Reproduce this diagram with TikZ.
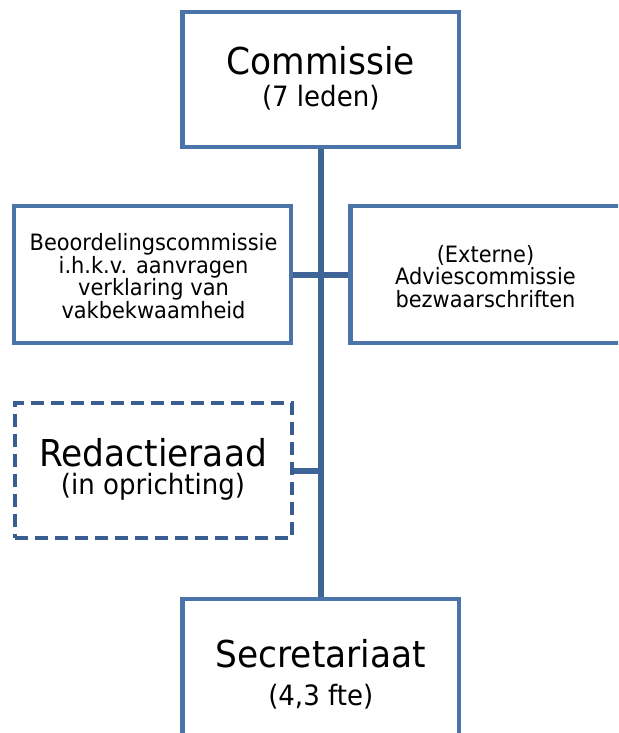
\documentclass[tikz,border=0pt]{standalone}
\usepackage{fontspec}
\setmainfont{DejaVu Sans}
\newfontfamily\orgfont[FakeStretch=0.93]{DejaVu Sans}
\definecolor{boxblue}{RGB}{74,116,170}
\definecolor{lineblue}{RGB}{62,100,152}
\definecolor{dashblue}{RGB}{58,94,146}
\begin{document}
\begin{tikzpicture}[x=1pt,y=-1pt,
  orgbox/.style={draw=boxblue, line width=4.5pt, fill=white, rectangle, inner sep=0pt},
  dashbox/.style={draw=dashblue, line width=4pt, fill=white, rectangle, inner sep=0pt, dash pattern=on 13pt off 7pt},
  conn/.style={draw=lineblue, line width=6pt},
  bigtxt/.style={anchor=base, inner sep=0pt, font=\orgfont\fontsize{37}{42}\selectfont},
  subtxt/.style={anchor=base, inner sep=0pt, font=\orgfont\fontsize{28}{32}\selectfont},
  smalltxt/.style={inner sep=0pt, align=center, font=\orgfont\fontsize{22.5}{22.7}\selectfont}]
\useasboundingbox (0,0) rectangle (618,733);
\clip (0,0) rectangle (618,733);
\node[orgbox, minimum width=276.5pt, minimum height=135pt] (com) at (320.75,79.5) {};
\node[orgbox, minimum width=277pt, minimum height=137pt] (beo) at (152.5,274.5) {};
\node[orgbox, minimum width=270.5pt, minimum height=137pt] (adv) at (485.75,274.5) {};
\node[dashbox, minimum width=277pt, minimum height=135pt] (red) at (153.5,470.5) {};
\node[orgbox, minimum width=276.5pt, minimum height=162pt] (sec) at (320.75,680) {};
\draw[conn] (com.south) -- (sec.north);
\draw[conn] (beo.east) -- (adv.west);
\draw[conn] (red.east) -- (red.east -| com.south);
% texts
\node[bigtxt] (comt) at (320.75,75) {Commissie};
\node[subtxt] (coms) at (320.75,107) {(7 leden)};
\node[smalltxt] (beot) at (153.5,276) {Beoordelingscommissie\\i.h.k.v. aanvragen\\verklaring van\\vakbekwaamheid};
\node[smalltxt] (advt) at (485.5,276.5) {(Externe)\\Adviescommissie\\bezwaarschriften};
\node[bigtxt] (redt) at (153,466) {Redactieraad};
\node[subtxt] (reds) at (153,494) {(in oprichting)};
\node[bigtxt] (sect) at (320.75,667) {Secretariaat};
\node[subtxt] (secs) at (320.75,705) {(4,3 fte)};
\end{tikzpicture}
\end{document}
